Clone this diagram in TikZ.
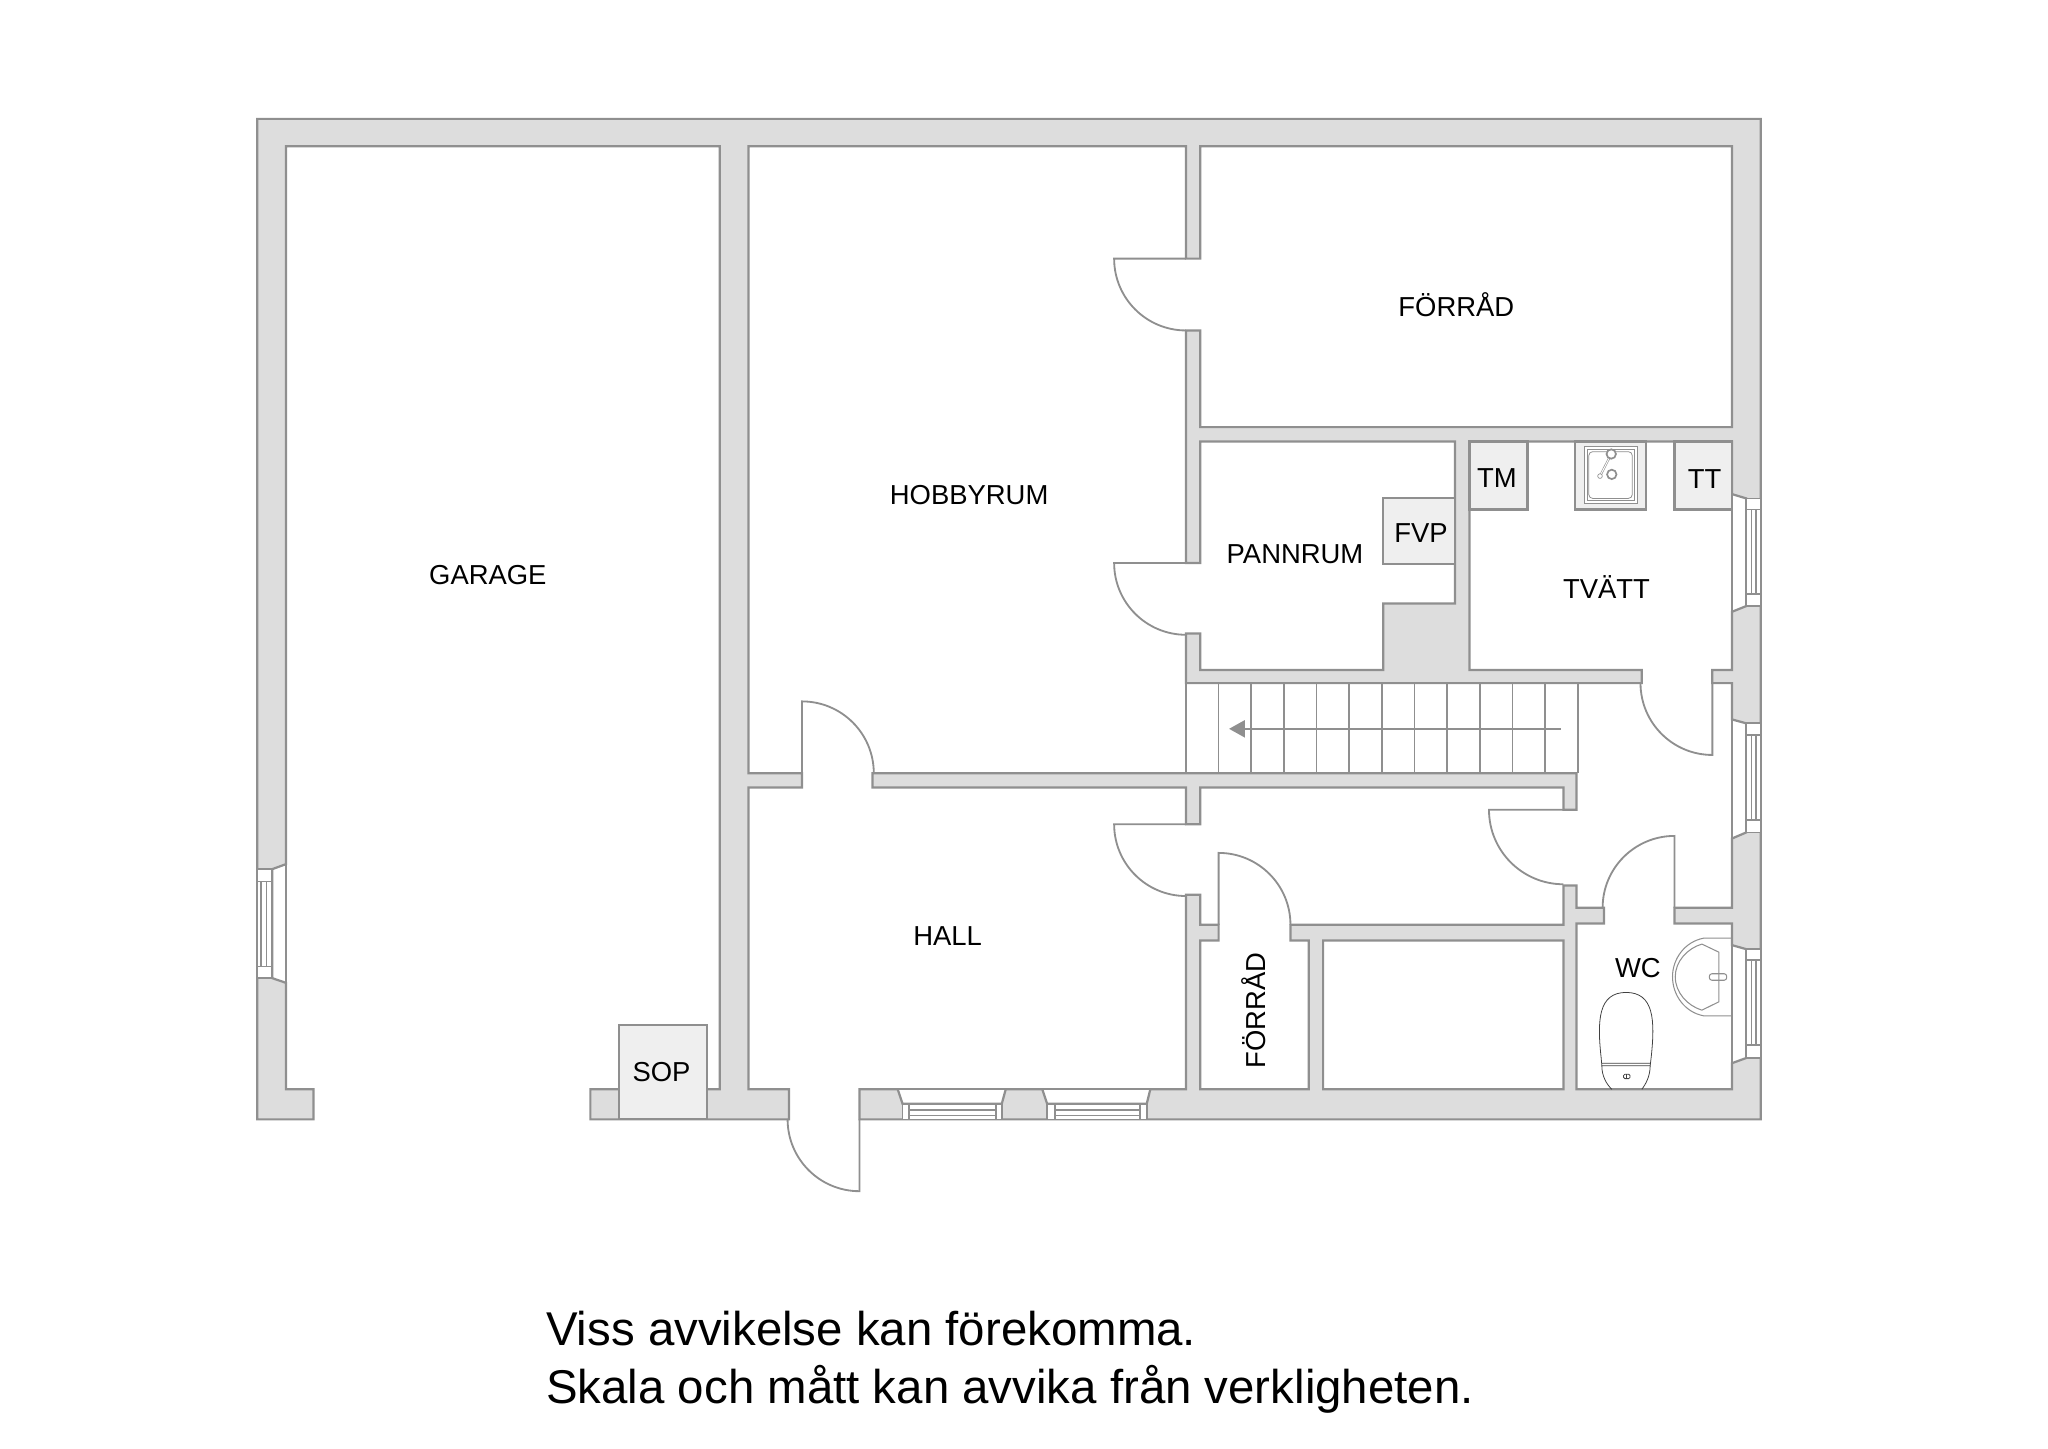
\documentclass[tikz,border=0pt]{standalone}
\usepackage{fontspec}
\setmainfont{Liberation Sans}
\usetikzlibrary{arrows.meta}
\definecolor{wallgray}{HTML}{DDDDDD}
\definecolor{linegray}{HTML}{8F8F8F}
\definecolor{boxgray}{HTML}{EFEFEF}
\begin{document}
\begin{tikzpicture}[x=1pt,y=-1pt,
    wall/.style={fill=wallgray,draw=linegray,line width=1.7pt,even odd rule,line join=miter},
    fixture/.style={fill=boxgray,draw=linegray,line width=1.7pt},
    frame/.style={fill=white,draw=linegray,line width=1.3pt},
    thin gray/.style={draw=linegray,line width=1.3pt},
    doorleaf/.style={draw=linegray,line width=1.4pt},
    sanitary/.style={draw=black!75,line width=.6pt},
    room/.style={font=\fontsize{21}{24}\selectfont,inner sep=0pt}]
    \useasboundingbox (0,0) rectangle (1568,1108.7);

    % walls
    \path[wall] (197,857) -- (197,91) -- (1348,91) -- (1348,857) -- (658,857) -- (658,834)
        -- (687.3,834) -- (691,845) -- (767,845) -- (770,834) -- (798,834) -- (801.7,845) -- (878,845) -- (880.7,834)
        -- (908,834) -- (908,685) -- (919,685) -- (919,708) -- (933,708) -- (933,720) -- (919,720) -- (919,834)
        -- (1002,834) -- (1002,720) -- (988,720) -- (988,708) -- (1197,708) -- (1197,678) -- (1207,678)
        -- (1207,695) -- (1228,695) -- (1228,707) -- (1207,707) -- (1207,834) -- (1326,834)
        -- (1326,814) -- (1337,810) -- (1337,726.7) -- (1326,723.6) -- (1326,707) -- (1282,707) -- (1282,695) -- (1326,695)
        -- (1326,642) -- (1337,637.3) -- (1337,553.8) -- (1326,550.8) -- (1326,523) -- (1311,523) -- (1311,513) -- (1326,513)
        -- (1326,468.4) -- (1337,464) -- (1337,381.6) -- (1326,378.3) -- (1326,338) -- (1125,338) -- (1125,513)
        -- (1257,513) -- (1257,523) -- (908,523) -- (908,485) -- (919,485) -- (919,513) -- (1059,513) -- (1059,462)
        -- (1114,462) -- (1114,338) -- (919,338) -- (919,431) -- (908,431) -- (908,253) -- (919,253) -- (919,327)
        -- (1326,327) -- (1326,112) -- (919,112) -- (919,198) -- (908,198) -- (908,112) -- (573,112) -- (573,592)
        -- (614,592) -- (614,603) -- (573,603) -- (573,834) -- (604,834) -- (604,857) -- (452,857) -- (452,834)
        -- (551,834) -- (551,112) -- (219,112) -- (219,661.6) -- (208.5,665.4) -- (208.5,748.9) -- (219,752.5)
        -- (219,834) -- (240,834) -- (240,857) -- cycle
        (1013,720) -- (1197,720) -- (1197,834) -- (1013,834) -- cycle
        (668,592) -- (1207,592) -- (1207,620) -- (1197,620) -- (1197,603) -- (919,603) -- (919,631) -- (908,631)
        -- (908,603) -- (668,603) -- cycle;

    % doors
    \foreach \hx/\hy/\ang/\turn/\rad in {908/198/180/-90/55,908/431/180/-90/55,614/592/-90/90/55,658/857/90/90/55,
        908/631/180/-90/55,933/708/-90/90/55,1311/523/90/90/55,1197/620/180/-90/57,1282/695/-90/-90/55} {
        \draw[doorleaf] (\hx,\hy) -- ++(\ang:\rad) arc[start angle=\ang,delta angle=\turn,radius=\rad];
    }

    % windows
    \foreach \xa/\xb/\xc/\xd/\ya/\yb/\yc/\yd in {197/208.5/200/204/665.4/748.9/675/740,
        1337/1348/1341/1344.3/381.6/464/390/455,1337/1348/1341/1344.3/553.8/637.3/562.8/627.9,
        1337/1348/1341/1344.3/726.7/810/735/800} {
        \draw[frame] (\xa,\ya) rectangle (\xb,\yb);
        \draw[thin gray] (\xa,\yc) -- (\xb,\yc) (\xa,\yd) -- (\xb,\yd) (\xc,\yc) -- (\xc,\yd) (\xd,\yc) -- (\xd,\yd);
    }
    \foreach \xa/\xb/\xc/\xd in {691/767/696/762.6,801.7/878/807.5/873} {
        \draw[frame] (\xa,845) rectangle (\xb,857);
        \draw[thin gray] (\xc,845) -- (\xc,857) (\xd,845) -- (\xd,857) (\xc,850) -- (\xd,850) (\xc,854) -- (\xd,854);
    }
    \draw[thin gray] (219,661.6) -- (219,752.5) (1326,378.3) -- (1326,468.4) (1326,550.8) -- (1326,642)
        (1326,723.6) -- (1326,814) (687.3,834) -- (770,834) (798,834) -- (880.7,834);

    % stairs
    \foreach \s in {0,...,12} {
        \draw[thin gray] (908+25*\s,523) -- (908+25*\s,592);
    }
    \draw[thin gray,-{Triangle[length=12pt,width=13pt]}] (1195,558) -- (941,558);

    % fixtures
    \draw[fixture] (474,785) rectangle (541,857);
    \draw[fixture] (1125,338) rectangle (1169.5,390);
    \draw[fixture] (1206,338) rectangle (1260,390);
    \draw[fixture] (1282,338) rectangle (1326,390);
    \draw[fixture] (1059,381) rectangle (1114,432);

    % laundry sink
    \draw[fill=white,draw=linegray,line width=.8pt] (1213,342) rectangle (1253.5,385.4);
    \draw[draw=linegray,line width=.6pt] (1215,344) rectangle (1251.5,383.4);
    \draw[draw=linegray,line width=.6pt,rounded corners=3pt] (1216.4,345.8) rectangle (1249.7,381.6);
    \draw[draw=linegray,line width=1.6pt] (1233.6,347.6) -- (1225,364.5);
    \draw[draw=white,line width=.7pt] (1233.6,347.6) -- (1225,364.5);
    \draw[draw=linegray,fill=white,line width=1.3pt] (1233.6,347.6) circle[radius=3.6];
    \draw[draw=linegray,fill=white,line width=1.3pt] (1234,363.2) circle[radius=3.6];
    \draw[draw=linegray,fill=white,line width=.5pt] (1225,364.5) circle[radius=1.8];

    % wc
    \draw[sanitary] (1226,811) .. controls (1222.5,780) and (1224,760) .. (1245,759.8)
        .. controls (1266,760) and (1267.5,780) .. (1264,811);
    \draw[sanitary] (1226,811) -- (1226.4,816) -- (1263.4,816) -- (1264,811) (1226.4,814) -- (1263.4,814);
    \draw[sanitary] (1226.4,816) .. controls (1226.4,824) and (1230,830) .. (1234,834);
    \draw[sanitary] (1263.4,816) .. controls (1263.4,824) and (1260,830) .. (1257,834);
    \draw[sanitary,rounded corners=1pt] (1243,822.5) rectangle (1248,825.8);
    \draw[sanitary] (1245.5,822.5) -- (1245.5,825.8);
    \draw[thin gray,line width=.8pt] (1326,718.3) -- (1304.2,718.3) .. controls (1290,721) and (1280.5,734) .. (1280.5,747.8)
        .. controls (1280.5,762) and (1290,775) .. (1304.2,777.7) -- (1326,777.7);
    \draw[thin gray,line width=.8pt] (1303,722.8) .. controls (1292,726) and (1282.6,736) .. (1282.6,747.8)
        .. controls (1282.6,760) and (1292,770) .. (1303,773.4) -- (1316,767) -- (1316,729) -- cycle;
    \draw[thin gray,line width=.8pt,rounded corners=2pt] (1308.7,745.5) rectangle (1322,750.5);

    % labels
    \node[room] (garage) at (373.5,440) {GARAGE};
    \node[room] (hobbyrum) at (742,379) {HOBBYRUM};
    \node[room] (forrad) at (1115,233.5) {FÖRRÅD};
    \node[room] (pannrum) at (991.5,424) {PANNRUM};
    \node[room] (fvp) at (1088,408) {FVP};
    \node[room] (tm) at (1146,366) {TM};
    \node[room] (tt) at (1305,367) {TT};
    \node[room] (tvatt) at (1230,449.5) {TVÄTT};
    \node[room] (hall) at (725.5,717) {HALL};
    \node[room,rotate=90] (forradb) at (959.5,773.5) {FÖRRÅD};
    \node[room] (wc) at (1254,741) {WC};
    \node[room] (sop) at (506.5,821) {SOP};
    \node[anchor=west,align=left,inner sep=0pt,font=\fontsize{36.3}{44}\selectfont] (note) at (418,1043)
        {Viss avvikelse kan förekomma.\\Skala och mått kan avvika från verkligheten.};
\end{tikzpicture}
\end{document}
